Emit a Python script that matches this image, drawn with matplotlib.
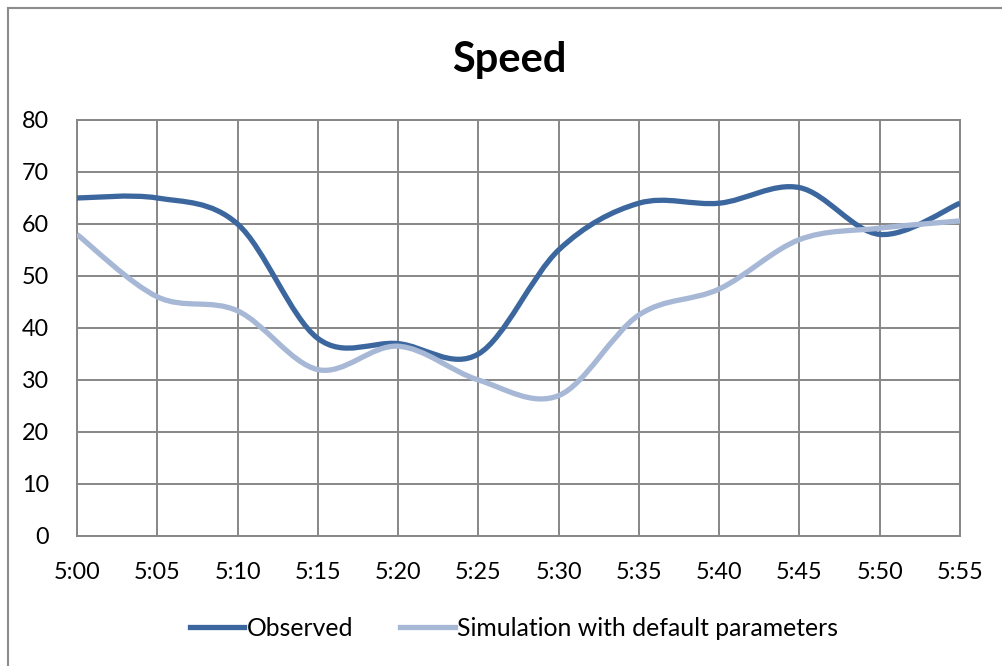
import numpy as np
import matplotlib
matplotlib.use("Agg")
import matplotlib.pyplot as plt
from matplotlib.path import Path
from matplotlib.patches import PathPatch
from matplotlib.lines import Line2D

times = ["5:00", "5:05", "5:10", "5:15", "5:20", "5:25",
         "5:30", "5:35", "5:40", "5:45", "5:50", "5:55"]
observed = [65, 65, 60, 38, 37, 35, 55, 64, 64, 67, 58, 64]
simulation = [58, 46, 43.3, 32, 36.5, 30, 27, 42.5, 47.5, 57, 59.2, 60.6]

OBS_COLOR = "#3c679e"
SIM_COLOR = "#a6b8d6"
GRID_COLOR = "#878787"

plt.rcParams['font.family'] = ['Lato', 'DejaVu Sans']


def smooth_path(xs, ys):
    # excel style smoothed line: cubic bezier segments, catmull-rom handles
    pts = np.column_stack([xs, ys]).astype(float)
    n = len(pts)
    verts = [pts[0]]
    codes = [Path.MOVETO]
    for i in range(n - 1):
        p0 = pts[i - 1] if i > 0 else pts[i]
        p1 = pts[i]
        p2 = pts[i + 1]
        p3 = pts[i + 2] if i + 2 < n else pts[i + 1]
        c1 = p1 + (p2 - p0) / 6.0
        c2 = p2 - (p3 - p1) / 6.0
        verts += [c1, c2, p2]
        codes += [Path.CURVE4] * 3
    return Path(verts, codes)


fig = plt.figure(figsize=(10.02, 6.66), dpi=100)
ax = fig.add_axes([77 / 1002, 1 - 536 / 666, 883 / 1002, 416 / 666])

x = np.arange(len(times))
for vals, col in [(observed, OBS_COLOR), (simulation, SIM_COLOR)]:
    patch = PathPatch(smooth_path(x, vals), fill=False, edgecolor=col,
                      linewidth=3.8, capstyle='butt', joinstyle='round', zorder=3)
    ax.add_patch(patch)

ax.set_xlim(0, len(times) - 1)
ax.set_ylim(0, 80)
ax.set_xticks(x)
ax.set_xticklabels(times)
ax.set_yticks(np.arange(0, 81, 10))
ax.tick_params(axis='both', length=0, labelsize=16.8, colors='black')
ax.tick_params(axis='x', pad=19)
ax.tick_params(axis='y', pad=20)
ax.grid(True, color=GRID_COLOR, linewidth=1.4)
ax.set_axisbelow(True)
for s in ax.spines.values():
    s.set_color(GRID_COLOR)
    s.set_linewidth(1.4)

fig.text(509 / 1002, 1 - 72 / 666, "Speed", ha='center', va='baseline',
         fontsize=30, fontweight='bold')

handles = [Line2D([], [], color=OBS_COLOR, linewidth=3.8),
           Line2D([], [], color=SIM_COLOR, linewidth=3.8)]
fig.legend(handles, ["Observed", "Simulation with default parameters"],
           loc='center', bbox_to_anchor=(514 / 1002, 1 - 628 / 666), ncol=2,
           frameon=False, fontsize=17.8, handlelength=2.2, handletextpad=0.1,
           columnspacing=1.9)

# chart area border (only top and left show in the crop)
fig.add_artist(Line2D([8 / 1002, 8 / 1002], [0, 1 - 7.5 / 666],
                      transform=fig.transFigure, color="#8c8c8c", linewidth=1.5))
fig.add_artist(Line2D([8 / 1002, 1], [1 - 7.5 / 666, 1 - 7.5 / 666],
                      transform=fig.transFigure, color="#8c8c8c", linewidth=1.5))

fig.savefig("out.png", dpi=100)
